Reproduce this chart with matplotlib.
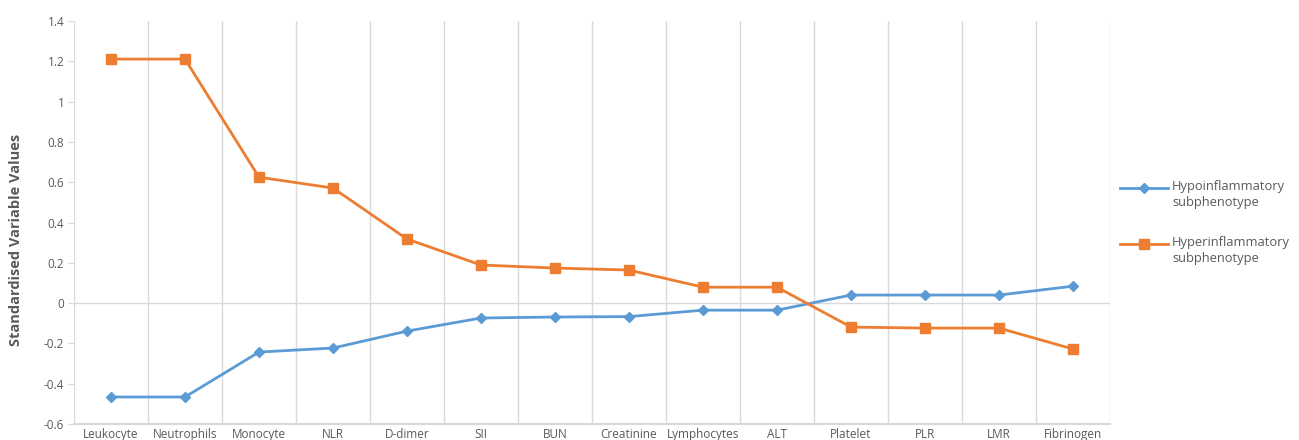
import numpy as np
import matplotlib
matplotlib.use("Agg")
import matplotlib.pyplot as plt
from matplotlib.lines import Line2D

plt.rcParams['font.family'] = ['Open Sans', 'DejaVu Sans']

categories = ["Leukocyte", "Neutrophils", "Monocyte", "NLR", "D-dimer", "SII", "BUN",
              "Creatinine", "Lymphocytes", "ALT", "Platelet", "PLR", "LMR", "Fibrinogen"]
hypo = [-0.466, -0.466, -0.243, -0.223, -0.139, -0.074, -0.069,
        -0.067, -0.035, -0.035, 0.040, 0.040, 0.040, 0.084]
hyper = [1.211, 1.211, 0.625, 0.571, 0.318, 0.189, 0.174,
         0.164, 0.079, 0.079, -0.119, -0.124, -0.124, -0.228]
yticks = [-0.6, -0.4, -0.2, 0, 0.2, 0.4, 0.6, 0.8, 1, 1.2, 1.4]
ytick_labels = ["-0.6", "-0.4", "-0.2", "0", "0.2", "0.4", "0.6", "0.8", "1", "1.2", "1.4"]
series_names = ["Hypoinflammatory\nsubphenotype", "Hyperinflammatory\nsubphenotype"]

blue = "#5B9BD5"
orange = "#ED7D31"
grid = "#D9D9D9"
text = "#595959"

W, H = 1299, 440
fig = plt.figure(figsize=(W / 100, H / 100), dpi=100)
ax = fig.add_axes([74 / W, 1 - 424 / H, (1110 - 74) / W, (424 - 21) / H])

x = np.arange(len(categories))
styles = [dict(color=blue, marker="D", ms=5.5), dict(color=orange, marker="s", ms=7)]
for vals, st in zip([hypo, hyper], styles):
    ax.plot(x, vals, lw=2, zorder=3, **st)

ax.set_xlim(-0.5, len(categories) - 0.5)
ax.set_ylim(-0.6, 1.4)
ax.set_xticks(x)
ax.set_xticklabels(categories, fontsize=8.5, color=text)
ax.set_yticks(yticks)
ax.set_yticklabels(ytick_labels, fontsize=8.5, color=text)
ax.tick_params(axis="x", length=0, pad=3)
ax.tick_params(axis="y", length=4, color=grid, pad=3)

for b in np.arange(-0.5, len(categories), 1.0):
    ax.axvline(b, color=grid, lw=1, zorder=1)
ax.axhline(0, color=grid, lw=1, zorder=1)
ax.axhline(-0.6, color=grid, lw=1.5, zorder=1, clip_on=False)

for s in ax.spines.values():
    s.set_visible(False)

ax.set_ylabel("Standardised Variable Values", fontsize=10.5, fontweight="bold", color=text)
ax.yaxis.set_label_coords(-0.049, 0.457)

# legend drawn by hand so the handle lines up with the first text line
for i, (name, st) in enumerate(zip(series_names, styles)):
    yl = 1 - (188 + i * 56) / H
    fig.add_artist(Line2D([1120 / W, 1168 / W], [yl, yl], lw=2, color=st["color"]))
    fig.add_artist(Line2D([1144 / W], [yl], marker=st["marker"], ms=st["ms"],
                          color=st["color"], lw=0))
    fig.text(1172 / W, yl + 8 / H, name, fontsize=9.3, color=text, va="top",
             linespacing=1.3)

fig.savefig("out.png", dpi=100)
